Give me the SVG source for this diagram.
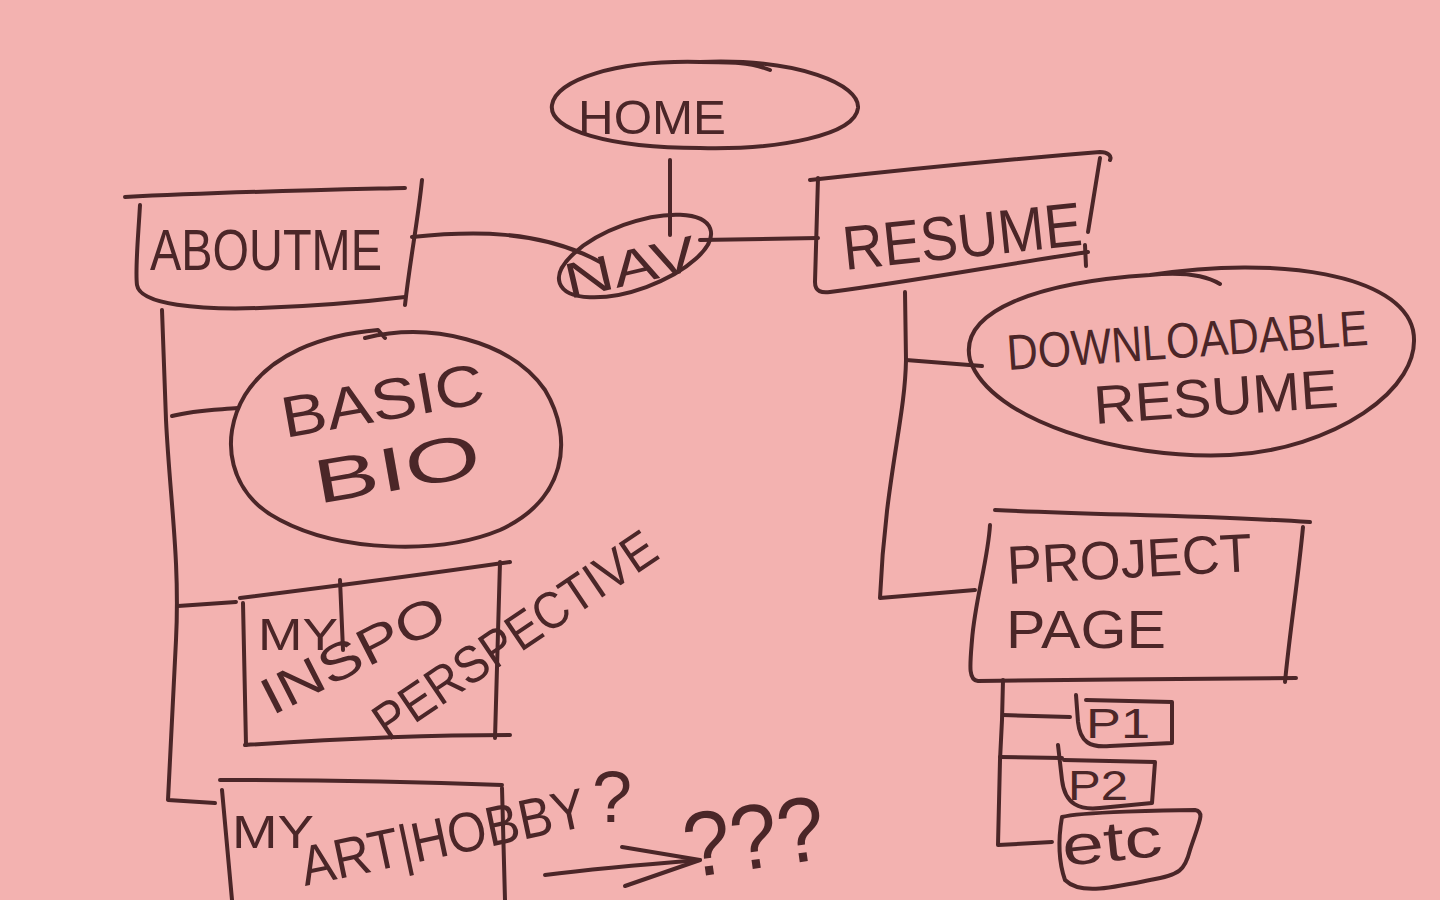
<svg xmlns="http://www.w3.org/2000/svg" width="1440" height="900" viewBox="0 0 1440 900">
  <style>
    .ink { fill: none; stroke: #4b2628; stroke-width: 4; stroke-linecap: round; stroke-linejoin: round; }
    .lbl { fill: #4b2628; font-family: "Liberation Sans", "DejaVu Sans", sans-serif; font-weight: normal; }
  </style>
  <rect width="1440" height="900" fill="#f3b2b0"/>

  <!-- connectors -->
  <g id="connectors" class="ink">
    <path d="M670,160 L670,235"/>
    <path d="M412,237 C470,231 540,229 600,262"/>
    <path d="M700,240 L818,238"/>
    <path d="M162,310 L166,420 C170,500 180,560 176,640 L168,800 L215,803"/>
    <path d="M172,416 C195,410 215,410 238,408"/>
    <path d="M178,606 L236,602"/>
    <path d="M905,292 L906,360 C905,420 885,480 880,598 L975,590"/>
    <path d="M906,360 L982,366"/>
    <path d="M1003,680 L1002,720 L1000,760 L998,845 L1052,842"/>
    <path d="M1003,715 L1070,717"/>
    <path d="M1000,757 L1062,758"/>
    <path d="M545,875 C600,868 650,864 700,860"/>
    <path d="M622,847 L700,860 L625,886"/>
  </g>

  <g id="home" class="node">
    <path class="ink" d="M700,62 C800,58 860,85 858,108 C855,135 780,150 700,148 C610,148 548,130 552,105 C556,80 615,60 700,62 C730,62 750,62 770,70"/>
    <text class="lbl" x="578" y="134" font-size="48" textLength="148" lengthAdjust="spacingAndGlyphs">HOME</text>
  </g>

  <g id="nav" class="node">
    <ellipse class="ink" cx="635" cy="256" rx="80" ry="33" transform="rotate(-20 635 256)"/>
    <text class="lbl" x="564" y="284" font-size="50" textLength="134" lengthAdjust="spacingAndGlyphs" transform="rotate(-13 632 270)">NAV</text>
  </g>

  <g id="aboutme" class="node">
    <path class="ink" d="M125,197 C220,192 320,190 405,188"/>
    <path class="ink" d="M140,205 C138,240 135,270 137,285 C140,305 200,310 260,308 C320,306 380,300 405,297"/>
    <path class="ink" d="M422,180 C418,220 410,260 405,305"/>
    <text class="lbl" x="150" y="270" font-size="58" textLength="232" lengthAdjust="spacingAndGlyphs">ABOUTME</text>
  </g>

  <g id="resume" class="node">
    <path class="ink" d="M810,180 C900,170 1000,160 1100,152 C1108,152 1112,156 1110,160"/>
    <path class="ink" d="M818,178 L815,282 C815,292 822,293 830,292 C920,280 1000,265 1088,252"/>
    <path class="ink" d="M1100,158 L1088,232"/>
    <path class="ink" d="M1085,245 L1086,266"/>
    <text class="lbl" x="845" y="270" font-size="62" textLength="240" lengthAdjust="spacingAndGlyphs" transform="rotate(-6 845 270)">RESUME</text>
  </g>

  <g id="downloadable-resume" class="node">
    <path class="ink" d="M1150,275 C1280,255 1400,275 1413,330 C1425,390 1330,450 1230,455 C1120,460 990,420 970,360 C958,310 1040,282 1150,275 C1180,272 1205,275 1220,284"/>
    <text class="lbl" x="1008" y="370" font-size="50" textLength="362" lengthAdjust="spacingAndGlyphs" transform="rotate(-4 1008 370)">DOWNLOADABLE</text>
    <text class="lbl" x="1095" y="424" font-size="54" textLength="245" lengthAdjust="spacingAndGlyphs" transform="rotate(-4 1095 424)">RESUME</text>
  </g>

  <g id="basic-bio" class="node">
    <path class="ink" d="M365,338 C430,322 510,340 545,390 C575,440 565,500 500,530 C440,555 340,552 280,520 C230,495 218,440 245,395 C270,355 320,335 378,330 L385,338"/>
    <text class="lbl" x="285" y="438" font-size="58" textLength="205" lengthAdjust="spacingAndGlyphs" transform="rotate(-10 285 438)">BASIC</text>
    <text class="lbl" x="318" y="504" font-size="62" textLength="168" lengthAdjust="spacingAndGlyphs" transform="rotate(-10 318 504)">BIO</text>
  </g>

  <g id="my-inspo" class="node">
    <path class="ink" d="M240,598 C320,588 420,575 510,562"/>
    <path class="ink" d="M243,603 L246,745"/>
    <path class="ink" d="M245,745 C320,740 420,735 510,735"/>
    <path class="ink" d="M500,562 L495,738"/>
    <path class="ink" d="M340,580 L343,650"/>
    <text class="lbl" x="258" y="650" font-size="44" textLength="80" lengthAdjust="spacingAndGlyphs">MY</text>
    <text class="lbl" x="272" y="716" font-size="52" textLength="200" lengthAdjust="spacingAndGlyphs" transform="rotate(-27 272 716)">INSPO</text>
    <text class="lbl" x="388" y="742" font-size="52" textLength="330" lengthAdjust="spacingAndGlyphs" transform="rotate(-34 388 742)">PERSPECTIVE</text>
  </g>

  <g id="my-art-hobby" class="node">
    <path class="ink" d="M220,780 C300,780 420,782 502,785"/>
    <path class="ink" d="M222,790 L232,900"/>
    <path class="ink" d="M502,788 L505,900"/>
    <text class="lbl" x="232" y="848" font-size="46" textLength="82" lengthAdjust="spacingAndGlyphs">MY</text>
    <text class="lbl" x="305" y="886" font-size="56" textLength="290" lengthAdjust="spacingAndGlyphs" transform="rotate(-12 305 886)">ART|HOBBY</text>
    <text class="lbl" x="592" y="822" font-size="72">?</text>
  </g>

  <g id="unknown" class="node">
    <text class="lbl" x="688" y="878" font-size="92" textLength="142" lengthAdjust="spacingAndGlyphs" transform="rotate(-8 688 878)">???</text>
  </g>

  <g id="project-page" class="node">
    <path class="ink" d="M995,510 C1100,515 1200,515 1310,522"/>
    <path class="ink" d="M990,525 C988,560 975,600 972,640 C970,665 968,680 978,681 C1080,680 1200,678 1296,678"/>
    <path class="ink" d="M1303,527 C1298,580 1290,630 1285,682"/>
    <text class="lbl" x="1008" y="584" font-size="54" textLength="245" lengthAdjust="spacingAndGlyphs" transform="rotate(-3 1008 584)">PROJECT</text>
    <text class="lbl" x="1006" y="648" font-size="54" textLength="160" lengthAdjust="spacingAndGlyphs">PAGE</text>
  </g>

  <g id="p1" class="node">
    <path class="ink" d="M1076,695 L1078,722 C1080,742 1090,748 1110,746 L1172,743 L1172,702 L1086,700"/>
    <text class="lbl" x="1086" y="738" font-size="42" textLength="64" lengthAdjust="spacingAndGlyphs">P1</text>
  </g>

  <g id="p2" class="node">
    <path class="ink" d="M1058,745 L1062,780 C1065,805 1080,810 1100,808 L1152,803 L1155,762 L1064,760"/>
    <text class="lbl" x="1068" y="800" font-size="42" textLength="60" lengthAdjust="spacingAndGlyphs">P2</text>
  </g>

  <g id="etc" class="node">
    <path class="ink" d="M1062,817 C1080,812 1170,810 1195,810 C1205,812 1200,820 1190,850 C1185,870 1180,875 1150,880 C1110,888 1080,895 1065,880 C1058,860 1058,840 1062,817 Z"/>
    <text class="lbl" x="1064" y="866" font-size="56" textLength="100" lengthAdjust="spacingAndGlyphs" transform="rotate(-6 1064 866)">etc</text>
  </g>
</svg>
